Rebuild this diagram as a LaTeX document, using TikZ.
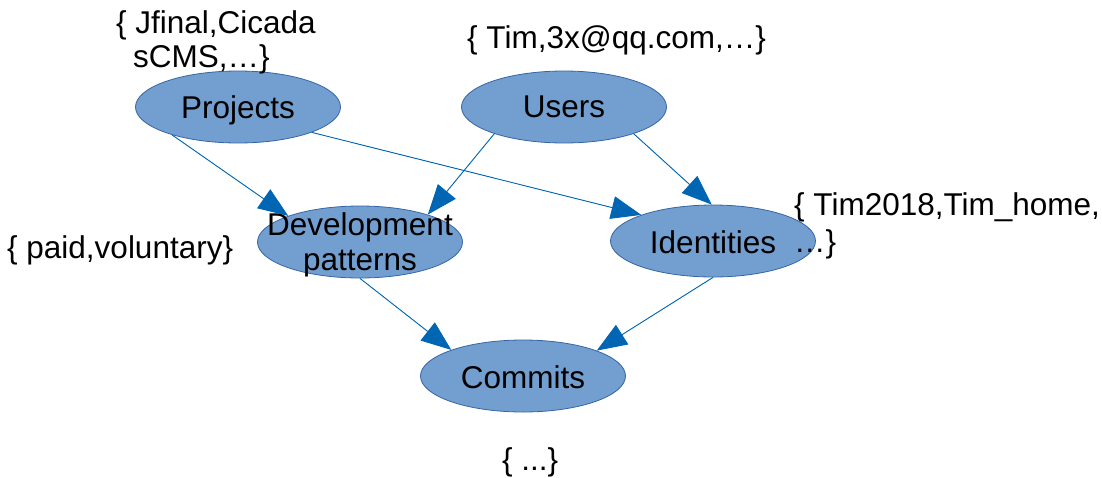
\documentclass[tikz,border=0pt]{standalone}
\usepackage{fontspec}
\setmainfont{Liberation Sans}
\usetikzlibrary{shapes.geometric,arrows.meta}
\definecolor{blobfill}{HTML}{729FCF}
\definecolor{blobline}{HTML}{3465A4}
\definecolor{linkcol}{HTML}{0066B3}
\tikzset{
  blob/.style={ellipse, draw=blobline, fill=blobfill, line width=0.8pt,
    minimum width=205pt, minimum height=72pt, inner sep=0pt},
  txt/.style={font=\fontsize{31.5}{35}\selectfont, inner sep=0pt, align=center},
  settext/.style={font=\fontsize{31.5}{36}\selectfont, inner sep=0pt, align=left, anchor=base west},
  link/.style={draw=linkcol, line width=0.9pt, -{Triangle[length=30pt,width=23pt]}, fill=linkcol}
}
\begin{document}
\begin{tikzpicture}[x=1pt,y=-1pt]
\useasboundingbox (0,0) rectangle (1102,477);

% entity ellipses
\node[blob, label={[txt,yshift=-3pt]center:Projects}] (proj) at (238,107) {};
\node[blob, label={[txt]center:Users}] (users) at (564,107) {};
\node[blob, label={[txt,yshift=-3pt]center:Development\\patterns}] (dev) at (360,242) {};
\node[blob, label={[txt,yshift=-1pt]center:Identities}] (ident) at (713,241) {};
\node[blob, label={[txt,yshift=-1pt]center:Commits}] (commits) at (523,376) {};

% example value sets (anchored at the baseline of the last line)
\node[settext, font=\fontsize{31.5}{34}\selectfont] (projset) at (116,67) {\{ Jfinal,Cicada\\\hspace*{17pt}sCMS,\dots\}};
\node[settext] (userset) at (467,48) {\{ Tim,3x@qq.com,\dots\}};
\node[settext, font=\fontsize{31.5}{37}\selectfont] (identset) at (794,252) {\{ Tim2018,Tim\_home,\\\dots\}};
\node[settext] (devset) at (7,258) {\{ paid,voluntary\}};
\node[settext] (commitset) at (502,470) {\{ ...\}};

% dependencies
\draw[link] (proj.203) -- (dev.160);
\draw[link] (users.201) -- (dev.22);
\draw[link] (proj.341) -- (ident.160);
\draw[link] (users.339) -- (ident.92);
\draw[link] (dev.270) -- (commits.160);
\draw[link] (ident.270) -- (commits.19);
\end{tikzpicture}
\end{document}
